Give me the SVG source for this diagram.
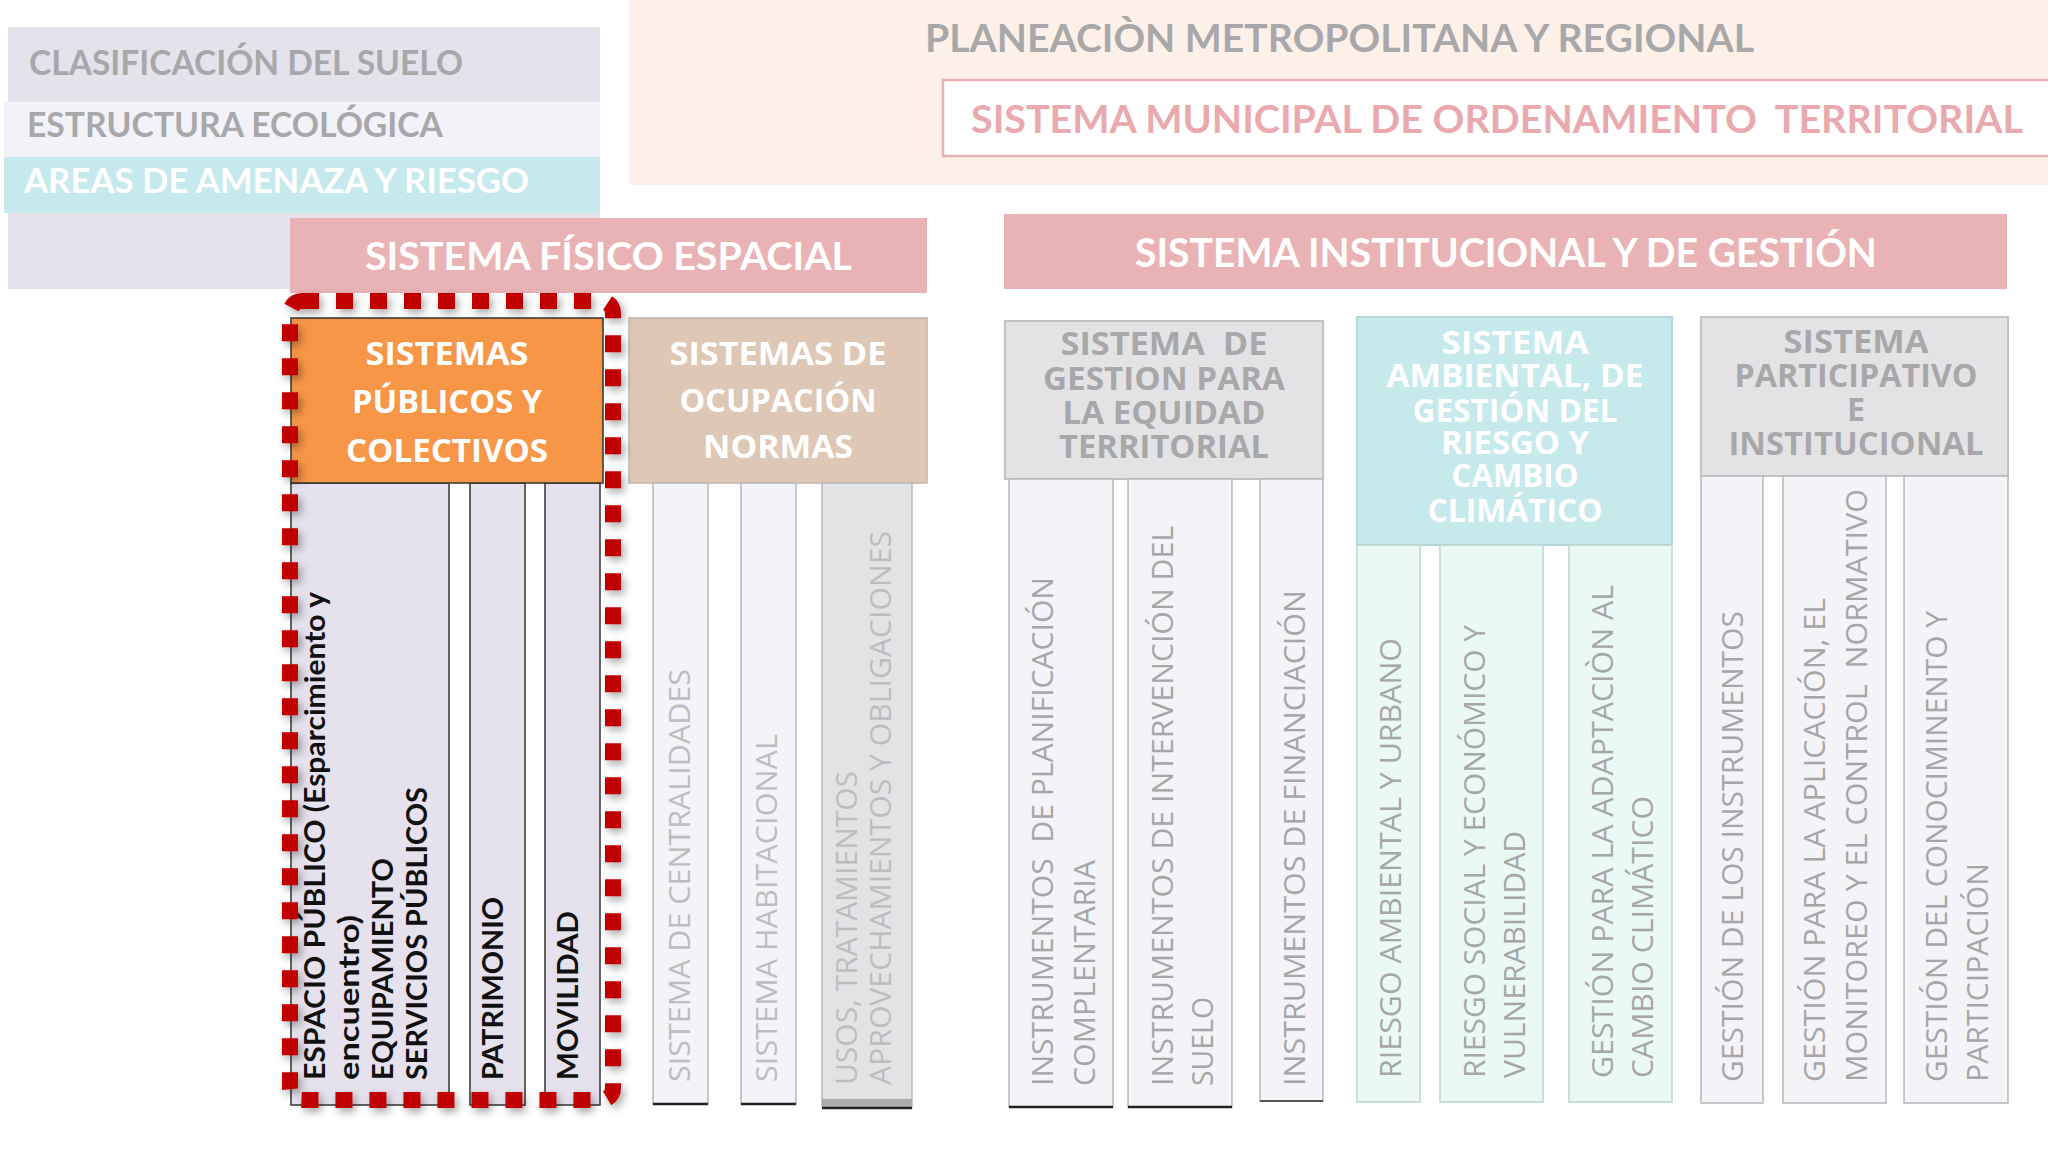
<svg xmlns="http://www.w3.org/2000/svg" width="2048" height="1152" viewBox="0 0 2048 1152">
<defs>
<filter id="sh" x="-10%" y="-10%" width="130%" height="130%">
<feDropShadow dx="3" dy="4" stdDeviation="4" flood-color="#000" flood-opacity="0.35"/>
</filter>
</defs>
<style>
.lb{font-family:Lato,"Liberation Sans",sans-serif;font-weight:700}
.hb{font-family:"Open Sans","DejaVu Sans",sans-serif;font-weight:700;font-size:32px;text-anchor:middle}
.vt{font-family:"Open Sans","Liberation Sans",sans-serif;font-size:30px;font-weight:400;fill:#a6a6a8}
.vb{font-family:Lato,"Liberation Sans",sans-serif;font-size:29px;font-weight:700;fill:#111}
.vl{font-family:"Open Sans","Liberation Sans",sans-serif;font-size:30px;font-weight:400;fill:#bdbdbf}
.colS{fill:#e6e2ed;stroke:#333;stroke-width:1.5}
.colL{fill:#f4f3f7;stroke:#b8b8ba;stroke-width:1.5}
.colG{fill:#e3e3e5;stroke:#b8b8ba;stroke-width:1.5}
.colC{fill:#ebf9f5;stroke:#b9d3cf;stroke-width:1.5}
.hdrG{fill:#e3e3e5;stroke:#c2c2c4;stroke-width:2}
.bar{fill:#e9b3b6}
.w{fill:#fff}
.g{fill:#a8a8aa}
.bot{stroke:#222;stroke-width:2.5}
</style>
<rect width="2048" height="1152" fill="#fff"/>

<g id="panel-suelo">
<rect x="8" y="27" width="592" height="262" fill="#e4e3ec"/>
<rect x="4" y="102" width="596" height="55" fill="#f3f2f8"/>
<rect x="4" y="157" width="596" height="56" fill="#c5e9ec"/>
<text class="lb g" x="29" y="75" font-size="35" textLength="434" lengthAdjust="spacingAndGlyphs">CLASIFICACIÓN DEL SUELO</text>
<text class="lb g" x="27" y="137" font-size="35" textLength="416" lengthAdjust="spacingAndGlyphs">ESTRUCTURA ECOLÓGICA</text>
<text class="lb w" x="24" y="193" font-size="35" textLength="505" lengthAdjust="spacingAndGlyphs">AREAS DE AMENAZA Y RIESGO</text>
</g>

<g id="planeacion">
<rect x="629" y="0" width="1419" height="185" fill="#fdf0e9"/>
<text class="lb g" x="925" y="52" font-size="38" textLength="829" lengthAdjust="spacingAndGlyphs">PLANEACIÒN METROPOLITANA Y REGIONAL</text>
</g>

<g id="sistema-municipal">
<rect x="943" y="80" width="1110" height="76" fill="#fff" stroke="#eab1b5" stroke-width="2.5"/>
<text class="lb" xml:space="preserve" x="971" y="133" font-size="39" fill="#e9a9ae" textLength="1052" lengthAdjust="spacingAndGlyphs">SISTEMA MUNICIPAL DE ORDENAMIENTO  TERRITORIAL</text>
</g>

<g id="sistema-fisico-espacial">
<rect class="bar" x="290" y="218" width="637" height="75"/>
<text class="lb w" x="365" y="270" font-size="39" textLength="487" lengthAdjust="spacingAndGlyphs">SISTEMA FÍSICO ESPACIAL</text>
</g>

<g id="sistema-institucional">
<rect class="bar" x="1004" y="214" width="1003" height="75"/>
<text class="lb w" x="1135" y="267" font-size="40" textLength="742" lengthAdjust="spacingAndGlyphs">SISTEMA INSTITUCIONAL Y DE GESTIÓN</text>
</g>

<g id="sistemas-publicos">
<rect class="colS" x="291" y="483" width="158" height="622"/>
<rect class="colS" x="470" y="483" width="55" height="622"/>
<rect class="colS" x="545" y="483" width="55" height="622"/>
<rect x="291" y="318" width="312" height="165" fill="#f79646" stroke="#333" stroke-width="1.5"/>
<text class="hb w" x="447" y="365" textLength="163" lengthAdjust="spacingAndGlyphs">SISTEMAS</text>
<text class="hb w" x="447" y="413" textLength="190" lengthAdjust="spacingAndGlyphs">PÚBLICOS Y</text>
<text class="hb w" x="447" y="462" textLength="202" lengthAdjust="spacingAndGlyphs">COLECTIVOS</text>
<text class="vb" transform="translate(325,1080) rotate(-90)" textLength="488" lengthAdjust="spacingAndGlyphs">ESPACIO PÚBLICO (Esparcimiento y</text>
<text class="vb" transform="translate(359,1080) rotate(-90)" textLength="165" lengthAdjust="spacingAndGlyphs">encuentro)</text>
<text class="vb" transform="translate(393,1080) rotate(-90)" textLength="222" lengthAdjust="spacingAndGlyphs">EQUIPAMIENTO</text>
<text class="vb" transform="translate(427,1080) rotate(-90)" textLength="293" lengthAdjust="spacingAndGlyphs">SERVICIOS PÚBLICOS</text>
<text class="vb" transform="translate(503,1080) rotate(-90)" textLength="183" lengthAdjust="spacingAndGlyphs">PATRIMONIO</text>
<text class="vb" transform="translate(578,1080) rotate(-90)" textLength="169" lengthAdjust="spacingAndGlyphs">MOVILIDAD</text>
</g>

<g id="sistemas-ocupacion">
<rect x="629" y="318" width="298" height="165" fill="#dfc7b5" stroke="#c4b5aa" stroke-width="1.5"/>
<text class="hb w" x="778" y="365" textLength="217" lengthAdjust="spacingAndGlyphs">SISTEMAS DE</text>
<text class="hb w" x="778" y="412" textLength="197" lengthAdjust="spacingAndGlyphs">OCUPACIÓN</text>
<text class="hb w" x="778" y="458" textLength="150" lengthAdjust="spacingAndGlyphs">NORMAS</text>
<rect class="colL" x="653" y="483" width="55" height="621"/>
<line class="bot" x1="653" y1="1104" x2="708" y2="1104"/>
<rect class="colL" x="741" y="483" width="55" height="621"/>
<line class="bot" x1="741" y1="1104" x2="796" y2="1104"/>
<rect class="colG" x="822" y="483" width="90" height="624"/>
<rect x="822" y="1099" width="90" height="8" fill="#acacae"/>
<line class="bot" x1="822" y1="1108" x2="912" y2="1108"/>
<text class="vl" transform="translate(690,1082) rotate(-90)" textLength="413" lengthAdjust="spacingAndGlyphs">SISTEMA DE CENTRALIDADES</text>
<text class="vl" transform="translate(777,1082) rotate(-90)" textLength="348" lengthAdjust="spacingAndGlyphs">SISTEMA HABITACIONAL</text>
<text class="vl" transform="translate(857,1085) rotate(-90)" textLength="314" lengthAdjust="spacingAndGlyphs">USOS, TRATAMIENTOS</text>
<text class="vl" transform="translate(891,1085) rotate(-90)" textLength="554" lengthAdjust="spacingAndGlyphs">APROVECHAMIENTOS Y OBLIGACIONES</text>
</g>

<g id="sistema-gestion-equidad">
<rect class="hdrG" x="1005" y="321" width="318" height="158"/>
<text class="hb g" xml:space="preserve" x="1164" y="355" textLength="207" lengthAdjust="spacingAndGlyphs">SISTEMA  DE</text>
<text class="hb g" x="1164" y="390" textLength="242" lengthAdjust="spacingAndGlyphs">GESTION PARA</text>
<text class="hb g" x="1164" y="424" textLength="203" lengthAdjust="spacingAndGlyphs">LA EQUIDAD</text>
<text class="hb g" x="1164" y="458" textLength="210" lengthAdjust="spacingAndGlyphs">TERRITORIAL</text>
<rect class="colL" x="1009" y="479" width="104" height="628"/>
<line class="bot" x1="1009" y1="1107" x2="1113" y2="1107"/>
<rect class="colL" x="1128" y="479" width="104" height="628"/>
<line class="bot" x1="1128" y1="1107" x2="1232" y2="1107"/>
<rect class="colL" x="1260" y="479" width="63" height="622"/>
<line x1="1260" y1="1101" x2="1323" y2="1101" stroke="#555" stroke-width="2"/>
<text class="vt" xml:space="preserve" transform="translate(1053,1086) rotate(-90)" textLength="509" lengthAdjust="spacingAndGlyphs">INSTRUMENTOS  DE PLANIFICACIÓN</text>
<text class="vt" transform="translate(1095,1086) rotate(-90)" textLength="226" lengthAdjust="spacingAndGlyphs">COMPLENTARIA</text>
<text class="vt" transform="translate(1173,1086) rotate(-90)" textLength="560" lengthAdjust="spacingAndGlyphs">INSTRUMENTOS DE INTERVENCIÓN DEL</text>
<text class="vt" transform="translate(1213,1086) rotate(-90)" textLength="89" lengthAdjust="spacingAndGlyphs">SUELO</text>
<text class="vt" transform="translate(1305,1086) rotate(-90)" textLength="496" lengthAdjust="spacingAndGlyphs">INSTRUMENTOS DE FINANCIACIÓN</text>
</g>

<g id="sistema-ambiental">
<rect x="1357" y="317" width="315" height="228" fill="#c6e9ec" stroke="#b5d6d9" stroke-width="2"/>
<text class="hb w" x="1515" y="354" font-size="30" textLength="147" lengthAdjust="spacingAndGlyphs">SISTEMA</text>
<text class="hb w" x="1515" y="387" font-size="30" textLength="257" lengthAdjust="spacingAndGlyphs">AMBIENTAL, DE</text>
<text class="hb w" x="1515" y="422" font-size="30" textLength="205" lengthAdjust="spacingAndGlyphs">GESTIÓN DEL</text>
<text class="hb w" x="1515" y="454" font-size="30" textLength="148" lengthAdjust="spacingAndGlyphs">RIESGO Y</text>
<text class="hb w" x="1515" y="487" font-size="30" textLength="127" lengthAdjust="spacingAndGlyphs">CAMBIO</text>
<text class="hb w" x="1515" y="522" font-size="30" textLength="175" lengthAdjust="spacingAndGlyphs">CLIMÁTICO</text>
<rect class="colC" x="1357" y="545" width="63" height="557"/>
<rect class="colC" x="1440" y="545" width="103" height="557"/>
<rect class="colC" x="1569" y="545" width="103" height="557"/>
<text class="vt" transform="translate(1401,1078) rotate(-90)" textLength="440" lengthAdjust="spacingAndGlyphs">RIESGO AMBIENTAL Y URBANO</text>
<text class="vt" transform="translate(1485,1078) rotate(-90)" textLength="453" lengthAdjust="spacingAndGlyphs">RIESGO SOCIAL Y ECONÓMICO Y</text>
<text class="vt" transform="translate(1525,1078) rotate(-90)" textLength="247" lengthAdjust="spacingAndGlyphs">VULNERABILIDAD</text>
<text class="vt" transform="translate(1613,1078) rotate(-90)" textLength="493" lengthAdjust="spacingAndGlyphs">GESTIÓN PARA LA ADAPTACIÒN AL</text>
<text class="vt" transform="translate(1653,1078) rotate(-90)" textLength="282" lengthAdjust="spacingAndGlyphs">CAMBIO CLIMÁTICO</text>
</g>

<g id="sistema-participativo">
<rect class="hdrG" x="1701" y="317" width="307" height="159"/>
<text class="hb g" x="1856" y="353" textLength="145" lengthAdjust="spacingAndGlyphs">SISTEMA</text>
<text class="hb g" x="1856" y="387" textLength="243" lengthAdjust="spacingAndGlyphs">PARTICIPATIVO</text>
<text class="hb g" x="1856" y="421">E</text>
<text class="hb g" x="1856" y="455" textLength="255" lengthAdjust="spacingAndGlyphs">INSTITUCIONAL</text>
<rect class="colL" x="1701" y="476" width="62" height="627"/>
<rect class="colL" x="1783" y="476" width="103" height="627"/>
<rect class="colL" x="1904" y="476" width="104" height="627"/>
<text class="vt" transform="translate(1743,1082) rotate(-90)" textLength="471" lengthAdjust="spacingAndGlyphs">GESTIÓN DE LOS INSTRUMENTOS</text>
<text class="vt" transform="translate(1825,1082) rotate(-90)" textLength="484" lengthAdjust="spacingAndGlyphs">GESTIÓN PARA LA APLICACIÓN, EL</text>
<text class="vt" xml:space="preserve" transform="translate(1867,1082) rotate(-90)" textLength="593" lengthAdjust="spacingAndGlyphs">MONITOREO Y EL CONTROL  NORMATIVO</text>
<text class="vt" transform="translate(1947,1082) rotate(-90)" textLength="471" lengthAdjust="spacingAndGlyphs">GESTIÓN DEL CONOCIMINENTO Y</text>
<text class="vt" transform="translate(1988,1082) rotate(-90)" textLength="219" lengthAdjust="spacingAndGlyphs">PARTICIPACIÓN</text>
</g>

<g id="highlight-frame">
<rect x="290" y="301" width="323" height="799" rx="12" fill="none" stroke="#c00000" stroke-width="16" stroke-dasharray="17 17" filter="url(#sh)"/>
</g>
</svg>
